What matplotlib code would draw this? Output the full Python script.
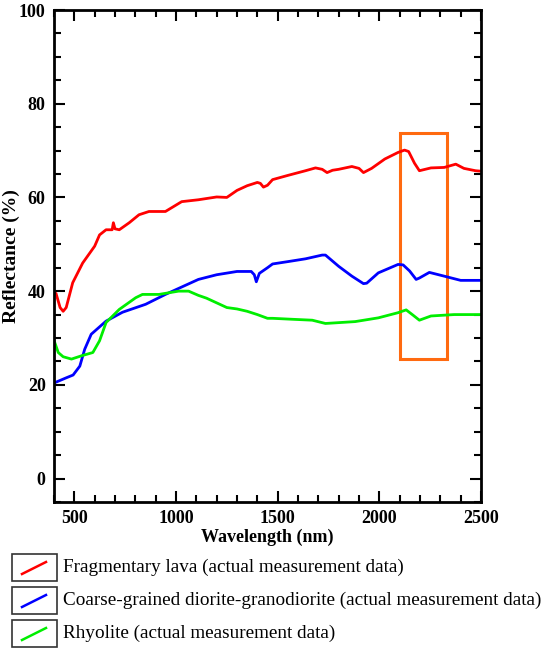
import matplotlib
matplotlib.use("Agg")
import matplotlib.pyplot as plt
from matplotlib.patches import Rectangle
from matplotlib.ticker import MultipleLocator

# 光谱数据
lava_wl = [400, 410, 430, 445, 460, 492, 541, 600, 624, 656, 686, 692, 700, 721, 770,
           818, 867, 948, 1028, 1110, 1200, 1250, 1300, 1350, 1400, 1415, 1430, 1450,
           1475, 1550, 1637, 1686, 1719, 1743, 1770, 1800, 1865, 1900, 1922, 1962, 2027,
           2092, 2124, 2144, 2173, 2197, 2254, 2319, 2376, 2416, 2473, 2500]
lava_val = [39.7, 39.5, 36.5, 35.7, 36.5, 41.8, 46.0, 49.6, 52.0, 53.1, 53.1, 54.6, 53.3,
            53.1, 54.6, 56.3, 57.0, 57.0, 59.1, 59.5, 60.1, 60.0, 61.5, 62.5, 63.2, 63.0,
            62.2, 62.6, 63.8, 64.7, 65.7, 66.3, 66.0, 65.3, 65.8, 66.0, 66.6, 66.2, 65.3,
            66.2, 68.2, 69.6, 70.1, 69.8, 67.3, 65.7, 66.3, 66.4, 67.1, 66.2, 65.7, 65.6]

diorite_wl = [400, 460, 494, 527, 551, 583, 656, 737, 851, 948, 1110, 1200, 1300, 1370,
              1385, 1395, 1410, 1450, 1475, 1550, 1637, 1719, 1735, 1800, 1865, 1922, 1938,
              1995, 2092, 2117, 2149, 2181, 2197, 2246, 2319, 2400, 2473, 2500]
diorite_val = [20.4, 21.5, 22.1, 24.0, 27.6, 30.8, 33.6, 35.5, 37.2, 39.3, 42.5, 43.5, 44.2,
               44.2, 43.5, 42.0, 43.8, 45.0, 45.8, 46.3, 46.9, 47.7, 47.7, 45.3, 43.2, 41.6,
               41.7, 43.9, 45.7, 45.6, 44.3, 42.5, 42.8, 44.0, 43.2, 42.3, 42.3, 42.3]

rhyolite_wl = [400, 421, 445, 486, 535, 591, 624, 656, 721, 802, 835, 916, 1013, 1062,
               1110, 1150, 1200, 1250, 1300, 1350, 1400, 1450, 1475, 1570, 1670, 1735,
               1881, 1995, 2092, 2132, 2165, 2197, 2254, 2368, 2473, 2500]
rhyolite_val = [29.5, 26.9, 26.0, 25.5, 26.2, 26.9, 29.4, 33.3, 36.1, 38.6, 39.3, 39.3,
                40.0, 40.0, 39.1, 38.5, 37.5, 36.5, 36.2, 35.7, 35.0, 34.2, 34.2, 34.0,
                33.8, 33.1, 33.5, 34.3, 35.4, 36.0, 34.9, 33.8, 34.7, 35.0, 35.0, 35.0]

series_names = ['Fragmentary lava (actual measurement data)',
                'Coarse-grained diorite-granodiorite (actual measurement data)',
                'Rhyolite (actual measurement data)']
series_colors = ['#ff0000', '#0000ff', '#00ee00']

# 标注框范围
box_wl = (2100, 2335)
box_val = (25.6, 73.8)

plt.rcParams['font.family'] = ['Liberation Serif', 'DejaVu Serif']

fig = plt.figure(figsize=(5.5, 6.57), dpi=100)
ax = fig.add_axes([54 / 550, 155 / 657, 427 / 550, 492 / 657])

for wl, val, c in zip([lava_wl, diorite_wl, rhyolite_wl],
                      [lava_val, diorite_val, rhyolite_val], series_colors):
    ax.plot(wl, val, color=c, linewidth=2)

ax.add_patch(Rectangle((box_wl[0], box_val[0]), box_wl[1] - box_wl[0], box_val[1] - box_val[0],
                       fill=False, edgecolor='#ff6a10', linewidth=2.2))

ax.set_xlim(400, 2500)
ax.set_ylim(-5, 100)
ax.xaxis.set_major_locator(MultipleLocator(500))
ax.xaxis.set_minor_locator(MultipleLocator(100))
ax.yaxis.set_major_locator(MultipleLocator(20))
ax.yaxis.set_minor_locator(MultipleLocator(5))
ax.tick_params(which='both', direction='in', top=True, right=True, width=1.5,
               labelsize=13, pad=6)
ax.tick_params(which='major', length=8)
ax.tick_params(which='minor', length=5)
for lab in ax.get_xticklabels() + ax.get_yticklabels():
    lab.set_fontweight('bold')
for sp in ax.spines.values():
    sp.set_linewidth(2)

ax.set_xlabel('Wavelength (nm)', fontsize=13, fontweight='bold', labelpad=1)
ax.set_ylabel('Reflectance (%)', fontsize=14, fontweight='bold')
ax.yaxis.set_label_coords(-0.079, 0.5)

# 图例：画在底部单独的坐标系里（像素坐标）
lax = fig.add_axes([0, 0, 1, 110 / 657])
lax.set_xlim(0, 550)
lax.set_ylim(0, 110)
lax.axis('off')
box_tops = [103, 70, 37]
for top, name, c in zip(box_tops, series_names, series_colors):
    lax.add_patch(Rectangle((12, top - 27), 45, 27, fill=False, edgecolor='#333333',
                            linewidth=1.2))
    lax.plot([22, 46], [top - 20, top - 8], color=c, linewidth=1.8)
    lax.text(63, top - 13.5, name, fontsize=13.8, va='center', ha='left')

fig.savefig('out.png', dpi=100)
